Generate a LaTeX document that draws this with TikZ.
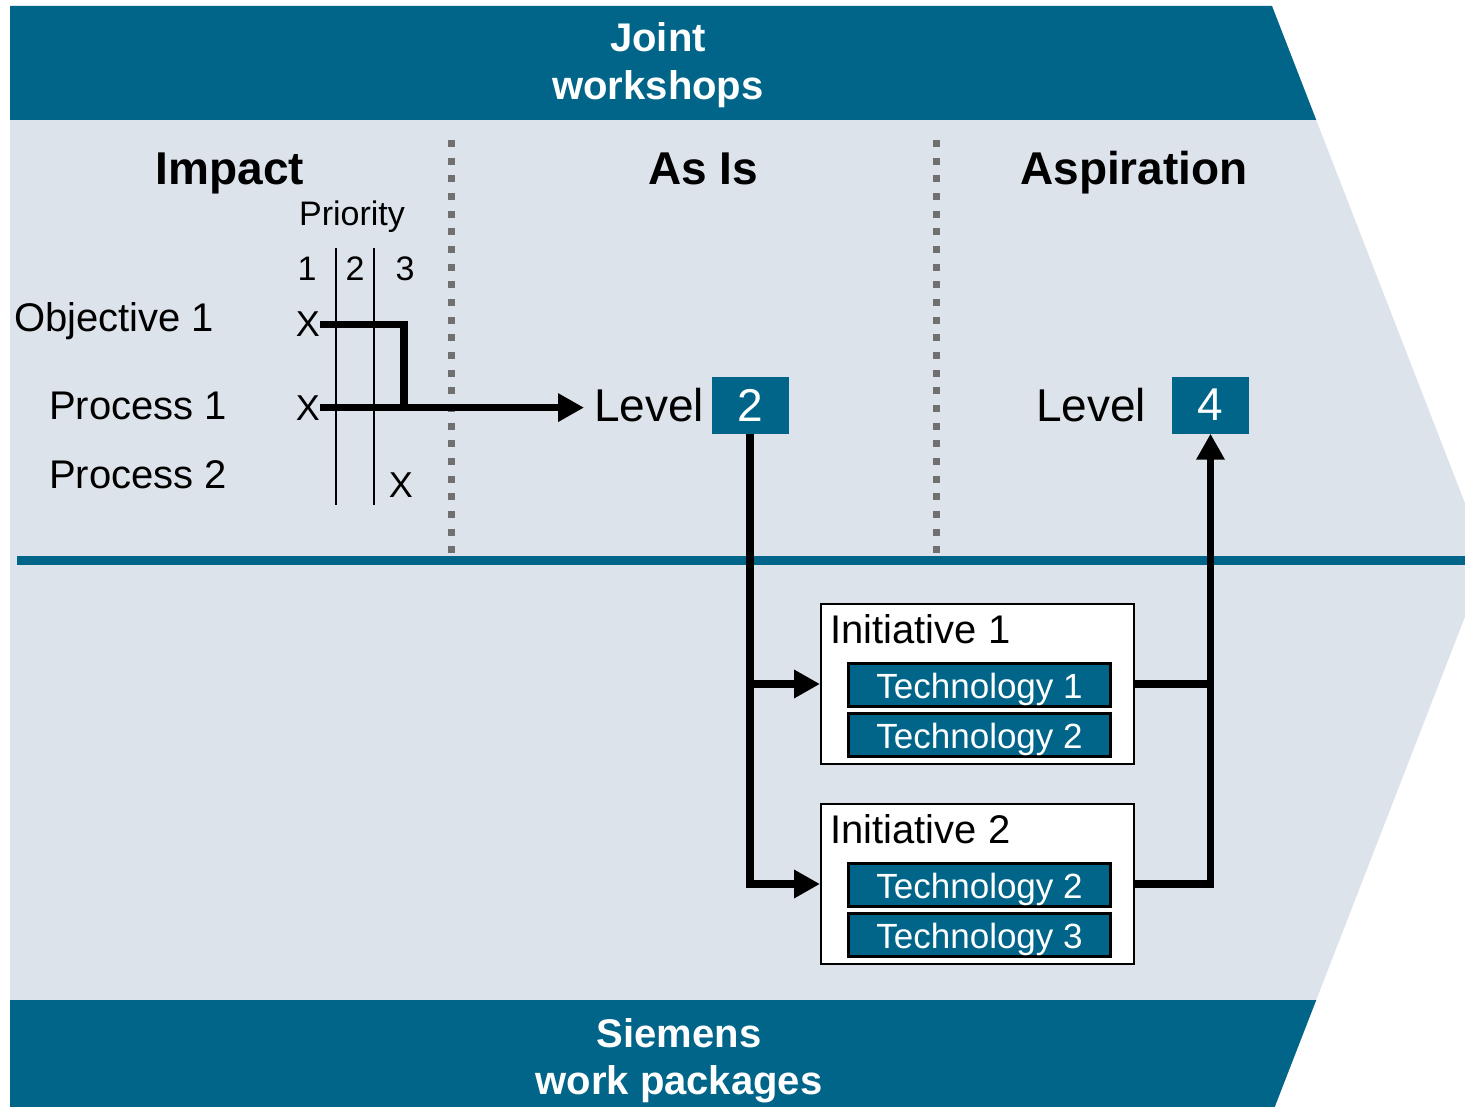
\documentclass[tikz,border=0pt]{standalone}
\usepackage{fontspec}
\setmainfont{Liberation Sans}
\usetikzlibrary{arrows.meta}
\definecolor{bandblue}{RGB}{0,101,136}
\definecolor{panelgrey}{RGB}{221,227,234}
\definecolor{dotgrey}{RGB}{112,112,112}
\newcommand{\fs}[1]{\fontsize{#1}{#1}\selectfont}
\tikzset{
  bandtext/.style={text=white, align=center, inner sep=0pt, font=\fontsize{40}{48}\selectfont\bfseries},
  heading/.style={inner sep=0pt, anchor=base, font=\fs{46}\bfseries},
  lbl/.style={inner sep=0pt, anchor=base west, font=\fs{40}},
  small/.style={inner sep=0pt, anchor=base, font=\fs{34}},
  xmark/.style={inner sep=0pt, anchor=base, font=\fs{36}},
  levelbox/.style={fill=bandblue, text=white, minimum width=77pt, minimum height=57pt, inner sep=0pt, font=\fs{46}},
  initbox/.style={draw=black, fill=white, line width=2pt, minimum width=313pt, minimum height=160pt, inner sep=0pt},
  techbox/.style={draw=black, fill=bandblue, line width=2.5pt, minimum width=262pt, minimum height=43pt, inner sep=0pt,
    text height=32pt, text depth=6pt, text=white, font=\fs{35}},
  conn/.style={line width=7.5pt},
  tipped/.style={conn, -{Triangle[length=26pt,width=27pt]}},
  dotline/.style={dotgrey, line width=7pt, dash pattern=on 7pt off 10.67pt},
  priorityline/.style={line width=2pt}
}
\begin{document}
\begin{tikzpicture}[x=1pt, y=-1pt]
\useasboundingbox (0,0) rectangle (1465,1107);
\clip (0,0) rectangle (1465,1107);

% chevron body with the two bands
\fill[panelgrey] (10,6) -- (1272,6) -- (1487,560) -- (1272,1114) -- (10,1114) -- cycle;
\begin{scope}
  \clip (10,6) -- (1272,6) -- (1487,560) -- (1272,1114) -- (10,1114) -- cycle;
  \fill[bandblue] (0,0) rectangle (1500,120);
  \fill[bandblue] (0,1000) rectangle (1500,1120);
\end{scope}

% separator between workshop area and work packages
\fill[bandblue] (17,556) rectangle (1465,565);

% column separators
\draw[dotline] (451,140) -- (451,553);
\draw[dotline] (936,140) -- (936,553);

% band titles (anchored on the baseline of their last line)
\node[bandtext, anchor=base] (top) at (658,100) {Joint\\workshops};
\node[bandtext, anchor=base, font=\fontsize{40}{47}\selectfont\bfseries] (bottom) at (679,1094) {Siemens\\work packages};

% column headings
\node[heading] (impact) at (230,185) {Impact};
\node[heading] (asis) at (703,185) {As Is};
\node[heading] (aspiration) at (1134,185) {Aspiration};

% priority matrix
\node[small] (priority) at (352,226) {Priority};
\node[small] (p1) at (307,281) {1};
\node[small] (p2) at (355,281) {2};
\node[small] (p3) at (405,281) {3};
\draw[priorityline] (336,248) -- (336,505);
\draw[priorityline] (374,248) -- (374,505);

\node[lbl] (obj1) at (14,332) {Objective 1};
\node[lbl] (proc1) at (49,419) {Process 1};
\node[lbl] (proc2) at (49,488) {Process 2};

\node[xmark] (x1) at (308,337) {X};
\node[xmark] (x2) at (308,420) {X};
\node[xmark] (x3) at (401,497) {X};

% levels
\node[lbl, font=\fs{46}] (lvl2text) at (594,421) {Level};
\node[levelbox] (lvl2) at (750,405) {2};
\node[lbl, font=\fs{46}] (lvl4text) at (1036,421) {Level};
\node[levelbox] (lvl4) at (1210.5,405) {4};

% initiatives
\node[initbox] (init1) at (977.5,684) {};
\node[lbl, font=\fs{40}] (init1title) at (830,643) {Initiative 1};
\node[techbox] (tech11) at (979.5,685) {Technology 1};
\node[techbox] (tech12) at (979.5,735) {Technology 2};

\node[initbox] (init2) at (977.5,884) {};
\node[lbl, font=\fs{40}] (init2title) at (830,843) {Initiative 2};
\node[techbox] (tech22) at (979.5,885) {Technology 2};
\node[techbox] (tech23) at (979.5,935) {Technology 3};

% connectors
\coordinate (bend) at (404,0);
\draw[conn] (x1.east) -| (bend |- x2.east);
\draw[tipped, shorten >=10pt] (x2.east) -- (x2.east -| lvl2text.west);

\draw[tipped] (lvl2.south) |- (init2.west);
\draw[tipped] (lvl2.south |- init1.west) -- (init1.west);

\draw[conn] (init1.east) -- (init1.east -| lvl4.south);
\draw[tipped] (init2.east) -| (lvl4.south);
\end{tikzpicture}
\end{document}
